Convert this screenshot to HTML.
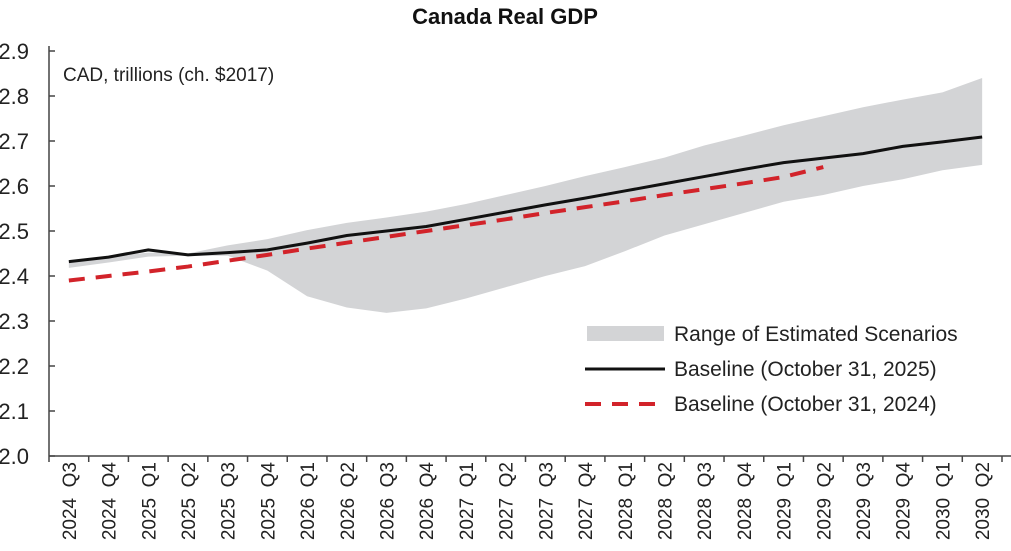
<!DOCTYPE html>
<html><head><meta charset="utf-8"><style>
body{margin:0;background:#fff;}
svg{display:block;font-family:"Liberation Sans",sans-serif;}
.n{font-family:"Liberation Sans Narrow","Liberation Sans",sans-serif;}
</style></head><body>
<svg id="chart" width="1011" height="551">
<text x="505" y="24" text-anchor="middle" font-size="22" font-weight="bold" fill="#111">Canada Real GDP</text>
<text x="63" y="81" font-size="19" fill="#222" class="n">CAD, trillions (ch. $2017)</text>
<g id="band"></g><g id="lines"></g><g id="axes"></g>
<g>
<rect x="587" y="326" width="77" height="15" fill="#d3d4d6"/>
<text x="674" y="341" font-size="21" fill="#222" class="n">Range of Estimated Scenarios</text>
<line x1="585" y1="369" x2="665" y2="369" stroke="#111" stroke-width="3"/>
<text x="674" y="376" font-size="21" fill="#222" class="n">Baseline (October 31, 2025)</text>
<line x1="585" y1="404" x2="665" y2="404" stroke="#d2232a" stroke-width="4" stroke-dasharray="16,11"/>
<text x="674" y="411" font-size="21" fill="#222" class="n">Baseline (October 31, 2024)</text>
</g>
</svg>
<script>
const categories=["2024 Q3","2024 Q4","2025 Q1","2025 Q2","2025 Q3","2025 Q4","2026 Q1","2026 Q2","2026 Q3","2026 Q4","2027 Q1","2027 Q2","2027 Q3","2027 Q4","2028 Q1","2028 Q2","2028 Q3","2028 Q4","2029 Q1","2029 Q2","2029 Q3","2029 Q4","2030 Q1","2030 Q2"];
const baseline2025=[2.432,2.442,2.458,2.447,2.452,2.458,2.473,2.490,2.500,2.510,2.526,2.542,2.558,2.573,2.589,2.605,2.621,2.637,2.652,2.662,2.672,2.688,2.698,2.709];
const baseline2024=[2.390,2.400,2.410,2.421,2.434,2.447,2.461,2.474,2.487,2.500,2.513,2.526,2.540,2.553,2.566,2.580,2.593,2.606,2.620,2.642];
const rangeUpper=[2.433,2.443,2.452,2.450,2.468,2.482,2.502,2.518,2.530,2.543,2.560,2.580,2.600,2.622,2.642,2.663,2.690,2.712,2.735,2.755,2.775,2.792,2.808,2.840];
const rangeLower=[2.418,2.430,2.443,2.445,2.445,2.412,2.355,2.330,2.318,2.328,2.350,2.375,2.400,2.422,2.455,2.490,2.515,2.540,2.565,2.580,2.600,2.615,2.635,2.647];
const yTicks=["2.0","2.1","2.2","2.3","2.4","2.5","2.6","2.7","2.8","2.9"];
const NS="http://www.w3.org/2000/svg";
const x0=49,x1=1002,yBase=456,yTop=51,vMin=2.0,vMax=2.9;
const step=(x1-x0)/categories.length;
const xs=i=>x0+step*(i+0.5);
const ys=v=>yBase-(v-vMin)/(vMax-vMin)*(yBase-yTop);
function mk(tag,attrs,parent){const e=document.createElementNS(NS,tag);for(const k in attrs)e.setAttribute(k,attrs[k]);parent.appendChild(e);return e;}
const band=document.getElementById('band'),lines=document.getElementById('lines'),axes=document.getElementById('axes');
let pts=rangeUpper.map((v,i)=>xs(i)+','+ys(v));
for(let i=rangeLower.length-1;i>=0;i--)pts.push(xs(i)+','+ys(rangeLower[i]));
const poly=mk('polygon',{points:pts.join(' '),fill:'#d3d4d6'},band);


const l25=mk('polyline',{points:baseline2025.map((v,i)=>xs(i)+','+ys(v)).join(' '),fill:'none',stroke:'#111',"stroke-width":3},lines);


const l24=mk('polyline',{points:baseline2024.map((v,i)=>xs(i)+','+ys(v)).join(' '),fill:'none',stroke:'#d2232a',"stroke-width":4,"stroke-dasharray":"16,11"},lines);


const ya=mk('line',{x1:x0,y1:yTop-5,x2:x0,y2:yBase,stroke:'#444',"stroke-width":1.5},axes);


const xa=mk('line',{x1:x0,y1:yBase,x2:1011,y2:yBase,stroke:'#444',"stroke-width":1.5},axes);


yTicks.forEach(t=>{const y=ys(parseFloat(t));
mk('line',{x1:x0,y1:y,x2:x0+6,y2:y,stroke:'#444',"stroke-width":1.5},axes);
const tx=mk('text',{x:29,y:y+8,"text-anchor":"end","font-size":22,fill:'#222',"class":"n"},axes);tx.textContent=t;

});
for(let i=0;i<=categories.length;i++){const x=x0+step*i;mk('line',{x1:x,y1:yBase,x2:x,y2:yBase+6,stroke:'#444',"stroke-width":1.5},axes);}
categories.forEach((c,i)=>{const x=xs(i)+7;
const tx=mk('text',{x:x,y:462,"text-anchor":"end","font-size":19,fill:'#222',"class":"n",transform:`rotate(-90 ${x} 462)`},axes);
tx.textContent=c.replace(' ','\u00a0\u00a0');

});
</script>
</body></html>
